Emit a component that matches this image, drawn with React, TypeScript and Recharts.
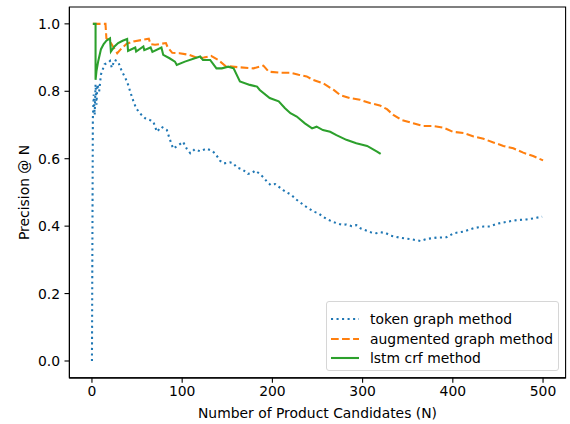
import React from "react";
import { LineChart, Line, XAxis, YAxis, Legend, ReferenceArea } from "recharts";

const tokenN = [0, 1, 2, 3, 4, 5, 6, 8, 10, 14, 18, 20, 22, 25, 29, 33, 37, 40, 43, 46, 49, 53, 59, 64, 68, 72, 77, 83, 86, 90, 96, 101, 105, 109, 114, 120, 127, 134, 138, 142, 146, 153, 157, 160, 166, 170, 173, 177, 181, 185, 190, 194, 198, 203, 208, 212, 216, 221, 226, 231, 236, 241, 246, 251, 256, 261, 267, 272, 277, 282, 288, 293, 298, 304, 309, 315, 320, 326, 331, 336, 341, 352, 364, 371, 382, 393, 401, 412, 423, 434, 441, 449, 460, 471, 482, 489, 499];
const tokenP = [0.0, 0.72, 0.79, 0.73, 0.82, 0.76, 0.82, 0.8, 0.85, 0.88, 0.885, 0.89, 0.87, 0.893, 0.888, 0.86, 0.84, 0.82, 0.794, 0.77, 0.75, 0.735, 0.72, 0.715, 0.71, 0.68, 0.695, 0.685, 0.66, 0.63, 0.64, 0.65, 0.63, 0.616, 0.628, 0.622, 0.63, 0.622, 0.61, 0.594, 0.586, 0.589, 0.586, 0.575, 0.569, 0.562, 0.555, 0.557, 0.565, 0.557, 0.545, 0.532, 0.522, 0.525, 0.515, 0.507, 0.5, 0.493, 0.48, 0.47, 0.46, 0.451, 0.443, 0.438, 0.428, 0.42, 0.413, 0.408, 0.404, 0.405, 0.4, 0.403, 0.393, 0.387, 0.382, 0.379, 0.382, 0.379, 0.372, 0.369, 0.366, 0.362, 0.356, 0.362, 0.366, 0.367, 0.379, 0.384, 0.394, 0.399, 0.399, 0.407, 0.413, 0.418, 0.42, 0.423, 0.428];

const augN = [1, 15, 16, 20, 24, 28, 32, 38, 46, 55, 63, 65, 70, 82, 84, 89, 97, 108, 118, 124, 132, 140, 148, 164, 179, 190, 196, 210, 220, 229, 238, 245, 256, 268, 275, 286, 297, 308, 319, 327, 334, 343, 356, 367, 378, 390, 400, 412, 423, 434, 445, 456, 467, 478, 489, 500];
const augP = [1.0, 1.0, 0.957, 0.948, 0.93, 0.913, 0.925, 0.94, 0.948, 0.952, 0.956, 0.94, 0.938, 0.943, 0.93, 0.914, 0.913, 0.908, 0.898, 0.9, 0.905, 0.893, 0.875, 0.871, 0.868, 0.876, 0.858, 0.855, 0.855, 0.849, 0.844, 0.834, 0.824, 0.804, 0.789, 0.78, 0.775, 0.765, 0.758, 0.747, 0.73, 0.715, 0.705, 0.697, 0.697, 0.692, 0.68, 0.676, 0.666, 0.659, 0.648, 0.638, 0.631, 0.618, 0.608, 0.595];

const lstmN = [1, 4, 4, 5, 7, 10, 13, 16, 20, 21, 25, 29, 34, 39, 40, 45, 48, 49, 57, 58, 65, 67, 77, 79, 86, 92, 94, 103, 114, 120, 123, 131, 138, 144, 151, 157, 164, 175, 183, 186, 197, 207, 214, 220, 227, 236, 244, 249, 256, 264, 271, 282, 293, 305, 316, 320];
const lstmP = [1.0, 1.0, 0.834, 0.86, 0.89, 0.925, 0.94, 0.95, 0.957, 0.918, 0.933, 0.943, 0.95, 0.955, 0.92, 0.926, 0.93, 0.918, 0.933, 0.922, 0.93, 0.917, 0.93, 0.908, 0.898, 0.888, 0.878, 0.888, 0.898, 0.903, 0.893, 0.893, 0.868, 0.868, 0.873, 0.868, 0.829, 0.819, 0.814, 0.804, 0.78, 0.77, 0.75, 0.735, 0.725, 0.705, 0.69, 0.695, 0.685, 0.68, 0.67, 0.656, 0.646, 0.638, 0.621, 0.614];

const xTicks = [0, 100, 200, 300, 400, 500];
const yTicks = [0, 0.2, 0.4, 0.6, 0.8, 1.0];

const seriesNames = ["token graph method", "augmented graph method", "lstm crf method"];
const seriesColors = ["#1f77b4", "#ff7f0e", "#2ca02c"];
const seriesDash = ["2.08 3.44", "7.7 3.33", undefined];

const zip = (ns: number[], ps: number[]) => ns.map((n, i) => ({ n, p: ps[i] }));
const tokenData = zip(tokenN, tokenP);
const augData = zip(augN, augP);
const lstmData = zip(lstmN, lstmP);

const FONT = "'DejaVu Sans', sans-serif";
const FS = 13.9;
const LW = 2.08;

const LegendBox = () => (
  <div
    style={{
      position: "relative",
      width: 233,
      height: 70,
      boxSizing: "border-box",
      border: "1px solid #d6d6d6",
      borderRadius: 3,
      background: "rgba(255,255,255,0.8)",
      fontFamily: FONT,
      fontSize: FS,
      color: "#000",
    }}
  >
    {seriesNames.map((name, i) => {
      const cy = 17 + i * 19.5;
      return (
        <div key={name}>
          <svg
            width={30}
            height={6}
            style={{ position: "absolute", left: 4, top: cy - 3 }}
          >
            <line
              x1={0}
              y1={3}
              x2={28}
              y2={3}
              stroke={seriesColors[i]}
              strokeWidth={LW}
              strokeDasharray={seriesDash[i]}
            />
          </svg>
          <span
            style={{
              position: "absolute",
              left: 43,
              top: cy - 9,
              lineHeight: "18px",
              whiteSpace: "nowrap",
            }}
          >
            {name}
          </span>
        </div>
      );
    })}
  </div>
);

export default function App() {
  return (
    <div style={{ position: "absolute", left: 0, top: 0, width: 570, height: 424, background: "#fff" }}>
      <LineChart width={570} height={424} margin={{ top: 7, right: 4.4, bottom: 0, left: 0 }}>
        <XAxis
          dataKey="n"
          type="number"
          domain={[-25, 525]}
          allowDataOverflow
          ticks={xTicks}
          interval={0}
          height={46.15}
          tickSize={4.9}
          tickMargin={3.5}
          axisLine={{ stroke: "#000", strokeWidth: 1.1 }}
          tickLine={{ stroke: "#000", strokeWidth: 1.1 }}
          tick={{ fill: "#000", fontSize: FS, fontFamily: FONT }}
          label={{
            content: () => (
              <text
                x={317.5}
                y={413}
                textAnchor="middle"
                dominantBaseline="central"
                fontFamily={FONT}
                fontSize={FS}
                fill="#000"
              >
                Number of Product Candidates (N)
              </text>
            ),
          }}
        />
        <YAxis
          type="number"
          domain={[-0.05, 1.05]}
          allowDataOverflow
          ticks={yTicks}
          interval={0}
          width={69.4}
          tickSize={4.9}
          tickMargin={4.5}
          tickFormatter={(v: number) => v.toFixed(1)}
          axisLine={{ stroke: "#000", strokeWidth: 1.1 }}
          tickLine={{ stroke: "#000", strokeWidth: 1.1 }}
          tick={{ fill: "#000", fontSize: FS, fontFamily: FONT }}
          label={{
            content: () => (
              <text
                x={24}
                y={192.5}
                transform="rotate(-90 24 192.5)"
                textAnchor="middle"
                dominantBaseline="central"
                fontFamily={FONT}
                fontSize={FS}
                fill="#000"
              >
                Precision @ N
              </text>
            ),
          }}
        />
        <ReferenceArea
          x1={-25}
          x2={525}
          y1={-0.05}
          y2={1.05}
          fill="none"
          fillOpacity={0}
          stroke="#000"
          strokeWidth={1.1}
          ifOverflow="extendDomain"
        />
        <Line
          data={tokenData}
          dataKey="p"
          name={seriesNames[0]}
          type="linear"
          stroke={seriesColors[0]}
          strokeWidth={LW}
          strokeDasharray={seriesDash[0]}
          dot={false}
          activeDot={false}
          isAnimationActive={false}
        />
        <Line
          data={augData}
          dataKey="p"
          name={seriesNames[1]}
          type="linear"
          stroke={seriesColors[1]}
          strokeWidth={LW}
          strokeDasharray={seriesDash[1]}
          dot={false}
          activeDot={false}
          isAnimationActive={false}
        />
        <Line
          data={lstmData}
          dataKey="p"
          name={seriesNames[2]}
          type="linear"
          stroke={seriesColors[2]}
          strokeWidth={LW}
          dot={false}
          activeDot={false}
          isAnimationActive={false}
        />
        <Legend
          layout="vertical"
          align="center"
          verticalAlign="middle"
          wrapperStyle={{ left: 326, top: 301, width: 233, height: 70 }}
          content={() => <LegendBox />}
        />
      </LineChart>
    </div>
  );
}
